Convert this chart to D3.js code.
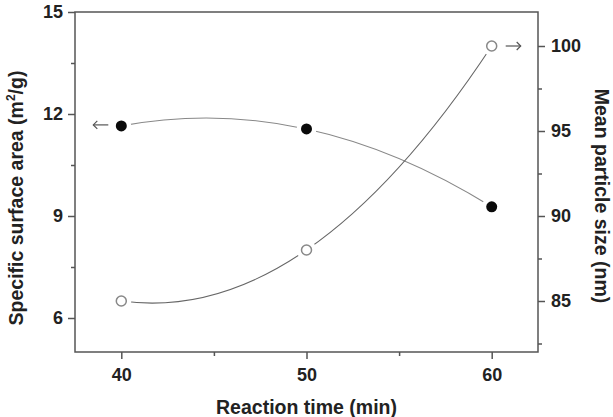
<!DOCTYPE html>
<html>
<head>
<meta charset="utf-8">
<script src="https://cdn.jsdelivr.net/npm/d3@7"></script>
<style>
	body { margin: 0; background: #fff; }
	svg { display: block; font-family: "Liberation Sans", Arial, sans-serif; }
</style>
</head>
<body>
<svg id="chart" width="613" height="417"></svg>
<script>
	'use strict';

	// data
	var times = [40, 50, 60];
	var surfaceArea = [11.65, 11.56, 9.27];   // m2/g, filled dots, left axis
	var particleSize = [85, 88, 100];         // nm, open dots, right axis
	var xTicks = [40, 50, 60];
	var leftTicks = [6, 9, 12, 15];
	var rightTicks = [85, 90, 95, 100];

	var margin = {top: 12, right: 75, bottom: 65, left: 75};
	var width = 613 - margin.left - margin.right,
		height = 417 - margin.top - margin.bottom;

	var svg = d3.select('#chart');
	var cont = svg.append('g')
		.attr('transform', 'translate(' + margin.left + ',' + margin.top + ')');

	var x = d3.scaleLinear().domain([37.5, 62.5]).range([0, width]);
	var yL = d3.scaleLinear().domain([5, 15]).range([height, 0]);
	var yR = d3.scaleLinear().domain([82, 102]).range([height, 0]);

	var axisColor = '#555', textColor = '#222';

	// curve that follows the parabola through evenly spaced points
	function curveSmooth(context) {
		var pts;
		return {
			areaStart: function() {}, areaEnd: function() {},
			lineStart: function() { pts = []; },
			point: function(px, py) { pts.push([px, py]); },
			lineEnd: function() {
				var n = pts.length;
				if (!n) return;
				context.moveTo(pts[0][0], pts[0][1]);
				if (n < 3) { if (n == 2) context.lineTo(pts[1][0], pts[1][1]); return; }
				var m = pts.map(function(p, i) {
					if (i == 0) return [(-3*p[0] + 4*pts[1][0] - pts[2][0]) / 2, (-3*p[1] + 4*pts[1][1] - pts[2][1]) / 2];
					if (i == n - 1) return [(pts[n-3][0] - 4*pts[n-2][0] + 3*p[0]) / 2, (pts[n-3][1] - 4*pts[n-2][1] + 3*p[1]) / 2];
					return [(pts[i+1][0] - pts[i-1][0]) / 2, (pts[i+1][1] - pts[i-1][1]) / 2];
				});
				for (var i = 0; i < n - 1; i++) {
					context.bezierCurveTo(
						pts[i][0] + m[i][0] / 3, pts[i][1] + m[i][1] / 3,
						pts[i+1][0] - m[i+1][0] / 3, pts[i+1][1] - m[i+1][1] / 3,
						pts[i+1][0], pts[i+1][1]);
				}
			}
		};
	}

	// frame
	cont.append('rect')
		.attr('width', width).attr('height', height)
		.attr('fill', 'none').attr('stroke', axisColor).attr('stroke-width', 1.5);

	function styleAxis(g) {
		g.select('.domain').remove();
		g.selectAll('line').attr('stroke', axisColor).attr('stroke-width', 1.5);
		g.selectAll('text').attr('fill', textColor).attr('font-size', '18px').attr('font-weight', 'bold');
	}

	// minor ticks
	cont.append('g').attr('transform', 'translate(0,' + height + ')')
		.call(d3.axisBottom(x).tickValues([45, 55]).tickSize(4).tickFormat(''))
		.call(styleAxis);
	cont.append('g')
		.call(d3.axisLeft(yL).tickValues([7.5, 10.5, 13.5]).tickSize(4).tickFormat(''))
		.call(styleAxis);
	cont.append('g').attr('transform', 'translate(' + width + ',0)')
		.call(d3.axisRight(yR).tickValues([82.5, 87.5, 92.5, 97.5]).tickSize(4).tickFormat(''))
		.call(styleAxis);

	// major ticks
	cont.append('g').attr('transform', 'translate(0,' + height + ')')
		.call(d3.axisBottom(x).tickValues(xTicks).tickSize(7).tickPadding(9))
		.call(styleAxis);
	cont.append('g')
		.call(d3.axisLeft(yL).tickValues(leftTicks).tickSize(7).tickPadding(5))
		.call(styleAxis);
	cont.append('g').attr('transform', 'translate(' + width + ',0)')
		.call(d3.axisRight(yR).tickValues(rightTicks).tickSize(7).tickPadding(6))
		.call(styleAxis);

	// axis titles
	svg.append('text')
		.attr('x', margin.left + width / 2).attr('y', 414)
		.attr('text-anchor', 'middle')
		.attr('font-size', '19.5px').attr('font-weight', 'bold').attr('fill', textColor)
		.text('Reaction time (min)');

	var lt = svg.append('text')
		.attr('transform', 'translate(23,198) rotate(-90)')
		.attr('text-anchor', 'middle')
		.attr('font-size', '19.5px').attr('font-weight', 'bold').attr('fill', textColor);
	lt.append('tspan').text('Specific surface area (m');
	lt.append('tspan').attr('font-size', '12px').attr('dy', -8).text('2');
	lt.append('tspan').attr('dy', 8).text('/g)');

	svg.append('text')
		.attr('transform', 'translate(595,196) rotate(90)')
		.attr('text-anchor', 'middle')
		.attr('font-size', '19.5px').attr('font-weight', 'bold').attr('fill', textColor)
		.text('Mean particle size (nm)');

	// lines
	var lineL = d3.line()
		.x(function(d, i) { return x(times[i]); })
		.y(function(d) { return yL(d); })
		.curve(curveSmooth);
	var lineR = d3.line()
		.x(function(d, i) { return x(times[i]); })
		.y(function(d) { return yR(d); })
		.curve(curveSmooth);

	cont.append('path').attr('d', lineL(surfaceArea))
		.attr('fill', 'none').attr('stroke', '#888').attr('stroke-width', 1.1);
	cont.append('path').attr('d', lineR(particleSize))
		.attr('fill', 'none').attr('stroke', '#666').attr('stroke-width', 1.1);

	// white gap round the markers
	cont.selectAll('circle.haloL')
		.data(surfaceArea).enter()
		.append('circle')
			.attr('cx', function(d, i) { return x(times[i]); })
			.attr('cy', function(d) { return yL(d); })
			.attr('r', 10).attr('fill', '#fff');
	cont.selectAll('circle.haloR')
		.data(particleSize).enter()
		.append('circle')
			.attr('cx', function(d, i) { return x(times[i]); })
			.attr('cy', function(d) { return yR(d); })
			.attr('r', 10).attr('fill', '#fff');

	cont.selectAll('circle.filled')
		.data(surfaceArea).enter()
		.append('circle')
			.attr('class', 'filled')
			.attr('cx', function(d, i) { return x(times[i]); })
			.attr('cy', function(d) { return yL(d); })
			.attr('r', 5.5).attr('fill', '#0a0a0a');
	cont.selectAll('circle.open')
		.data(particleSize).enter()
		.append('circle')
			.attr('class', 'open')
			.attr('cx', function(d, i) { return x(times[i]); })
			.attr('cy', function(d) { return yR(d); })
			.attr('r', 5).attr('fill', '#fff')
			.attr('stroke', '#888').attr('stroke-width', 1.5);

	// arrows pointing to each series' axis
	function arrow(x0, y0, dir) {
		var g = cont.append('g').attr('stroke', '#555').attr('stroke-width', 1.2).attr('fill', 'none');
		g.append('line').attr('x1', x0).attr('y1', y0).attr('x2', x0 + dir * 15).attr('y2', y0);
		g.append('path').attr('d', 'M' + (x0 + dir * 11) + ',' + (y0 - 4) + 'L' + (x0 + dir * 15) + ',' + y0 + 'L' + (x0 + dir * 11) + ',' + (y0 + 4));
	}
	arrow(x(times[0]) - 13, yL(surfaceArea[0]) - 1, -1);
	arrow(x(times[2]) + 14, yR(particleSize[2]), 1);
</script>
</body>
</html>
